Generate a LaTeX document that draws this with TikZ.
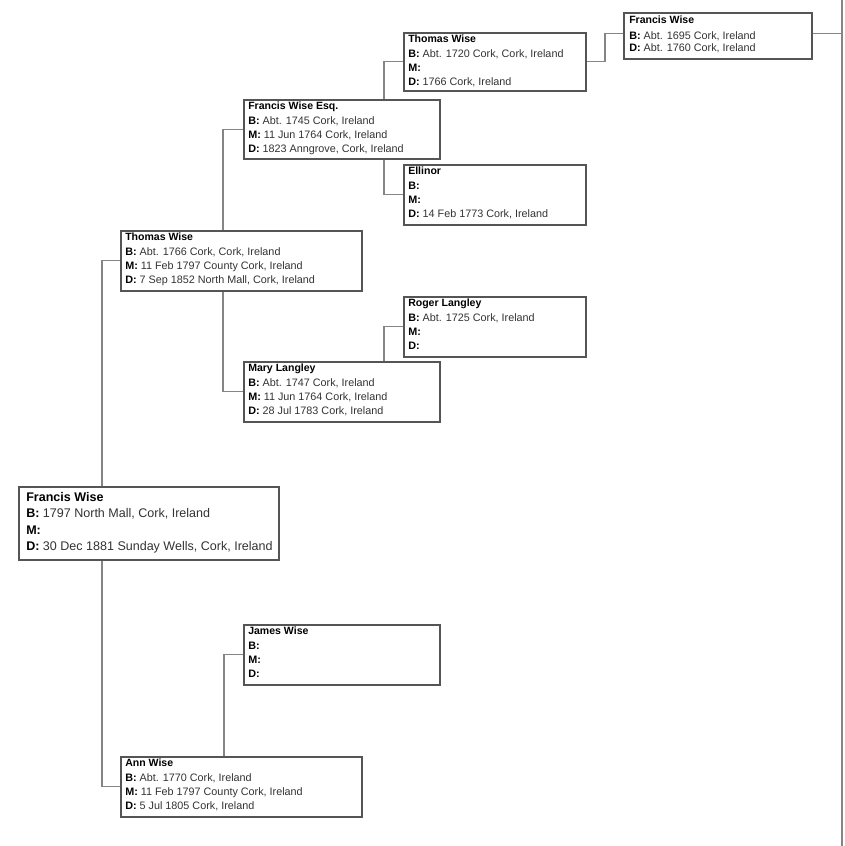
\documentclass[tikz,border=0pt]{standalone}
\usepackage{fontspec}
\setmainfont{Liberation Sans}
\usetikzlibrary{calc}
\definecolor{boxgray}{HTML}{555555}
\definecolor{linegray}{HTML}{858585}
\definecolor{txtgray}{HTML}{333333}
\tikzset{
  pbox/.style={draw=boxgray, line width=1.4pt, fill=white, inner sep=0pt, anchor=north west},
  conn/.style={draw=linegray, line width=0.8pt},
  ptext/.style={inner sep=0pt, anchor=base west, text=txtgray, font=\fontsize{8.1}{9.7}\selectfont},
  pname/.style={ptext, text=black, font=\fontsize{7.9}{9.5}\selectfont\bfseries},
  btext/.style={ptext, font=\fontsize{9.4}{11}\selectfont},
  bname/.style={btext, text=black, font=\fontsize{9.4}{11}\selectfont\bfseries}
}
% box: name, x, y, width, height
\newcommand\famb[5]{\node[pbox, minimum width={#4*0.75pt}, minimum height={#5*0.75pt}] (#1) at (#2,#3) {};}
% line: box, index, style, dx, dy, text
\newcommand\faml[6]{\node[#3] (#1-#2) at ([shift={(#4,#5)}]#1.north west) {#6};}
\newcommand\lab[1]{\textcolor{black}{\textbf{#1}}}
\begin{document}
\begin{tikzpicture}[x=0.75pt,y=-0.75pt]
\fill[white] (0,0) rectangle (844,846);
\useasboundingbox (0,0) rectangle (844,846);

% boxes
\famb{A}{623}{12}{188}{46}
\famb{B}{403}{32}{182}{58}
\famb{C}{243}{99}{196}{59}
\famb{D}{403}{164}{182}{60}
\famb{E}{120}{230}{241}{60}
\famb{F}{403}{296}{182}{60}
\famb{G}{243}{361}{196}{60}
\famb{H}{18}{486}{260}{73}
\famb{I}{243}{624}{196}{60}
\famb{J}{120}{756}{241}{60}

% texts
\faml{A}{1}{pname}{6}{11}{Francis Wise}
\faml{A}{2}{ptext}{6}{27}{\lab{B:} Abt. 1695 Cork, Ireland}
\faml{A}{3}{ptext}{6}{39}{\lab{D:} Abt. 1760 Cork, Ireland}

\faml{B}{1}{pname}{5}{10}{Thomas Wise}
\faml{B}{2}{ptext}{5}{25}{\lab{B:} Abt. 1720 Cork, Cork, Ireland}
\faml{B}{3}{ptext}{5}{39}{\lab{M:}}
\faml{B}{4}{ptext}{5}{53}{\lab{D:} 1766 Cork, Ireland}

\faml{C}{1}{pname}{5}{10}{Francis Wise Esq.}
\faml{C}{2}{ptext}{5}{25}{\lab{B:} Abt. 1745 Cork, Ireland}
\faml{C}{3}{ptext}{5}{39}{\lab{M:} 11 Jun 1764 Cork, Ireland}
\faml{C}{4}{ptext}{5}{53}{\lab{D:} 1823 Anngrove, Cork, Ireland}

\faml{D}{1}{pname}{5}{10}{Ellinor}
\faml{D}{2}{ptext}{5}{25}{\lab{B:}}
\faml{D}{3}{ptext}{5}{39}{\lab{M:}}
\faml{D}{4}{ptext}{5}{53}{\lab{D:} 14 Feb 1773 Cork, Ireland}

\faml{E}{1}{pname}{5}{10}{Thomas Wise}
\faml{E}{2}{ptext}{5}{25}{\lab{B:} Abt. 1766 Cork, Cork, Ireland}
\faml{E}{3}{ptext}{5}{39}{\lab{M:} 11 Feb 1797 County Cork, Ireland}
\faml{E}{4}{ptext}{5}{53}{\lab{D:} 7 Sep 1852 North Mall, Cork, Ireland}

\faml{F}{1}{pname}{5}{10}{Roger Langley}
\faml{F}{2}{ptext}{5}{25}{\lab{B:} Abt. 1725 Cork, Ireland}
\faml{F}{3}{ptext}{5}{39}{\lab{M:}}
\faml{F}{4}{ptext}{5}{53}{\lab{D:}}

\faml{G}{1}{pname}{5}{10}{Mary Langley}
\faml{G}{2}{ptext}{5}{25}{\lab{B:} Abt. 1747 Cork, Ireland}
\faml{G}{3}{ptext}{5}{39}{\lab{M:} 11 Jun 1764 Cork, Ireland}
\faml{G}{4}{ptext}{5}{53}{\lab{D:} 28 Jul 1783 Cork, Ireland}

\faml{H}{1}{bname}{8}{15}{Francis Wise}
\faml{H}{2}{btext}{8}{31}{\lab{B:} 1797 North Mall, Cork, Ireland}
\faml{H}{3}{btext}{8}{48}{\lab{M:}}
\faml{H}{4}{btext}{8}{64}{\lab{D:} 30 Dec 1881 Sunday Wells, Cork, Ireland}

\faml{I}{1}{pname}{5}{10}{James Wise}
\faml{I}{2}{ptext}{5}{25}{\lab{B:}}
\faml{I}{3}{ptext}{5}{39}{\lab{M:}}
\faml{I}{4}{ptext}{5}{53}{\lab{D:}}

\faml{J}{1}{pname}{5}{10}{Ann Wise}
\faml{J}{2}{ptext}{5}{25}{\lab{B:} Abt. 1770 Cork, Ireland}
\faml{J}{3}{ptext}{5}{39}{\lab{M:} 11 Feb 1797 County Cork, Ireland}
\faml{J}{4}{ptext}{5}{53}{\lab{D:} 5 Jul 1805 Cork, Ireland}

% trunk coordinates
\coordinate (tH) at (102,0);
\coordinate (tE) at (223,0);
\coordinate (tJ) at (224,0);
\coordinate (tC) at (384,0);
\coordinate (tG) at (384,0);
\coordinate (tB) at (605,0);
\coordinate (edgeT) at (842,0);
\coordinate (edgeB) at (842,846);
\coordinate (Ain) at ([yshift=1.5pt]A.west);
\coordinate (Aout) at ([yshift=1.5pt]A.east);

% connectors
\draw[conn] (tH |- H.north) |- (E.west);
\draw[conn] (tH |- H.south) |- (J.west);
\draw[conn] (tE |- E.north) |- (C.west);
\draw[conn] (tE |- E.south) |- (G.west);
\draw[conn] (tJ |- J.north) |- (I.west);
\draw[conn] (tC |- C.north) |- (B.west);
\draw[conn] (tC |- C.south) |- (D.west);
\draw[conn] (tG |- G.north) |- (F.west);
\draw[conn] (B.east) -- (tB |- B.east) |- (Ain);
\draw[conn] (Aout) -- (edgeT |- Aout);
\draw[draw=linegray, line width=1.4pt] (edgeT) -- (edgeB);
\end{tikzpicture}
\end{document}
